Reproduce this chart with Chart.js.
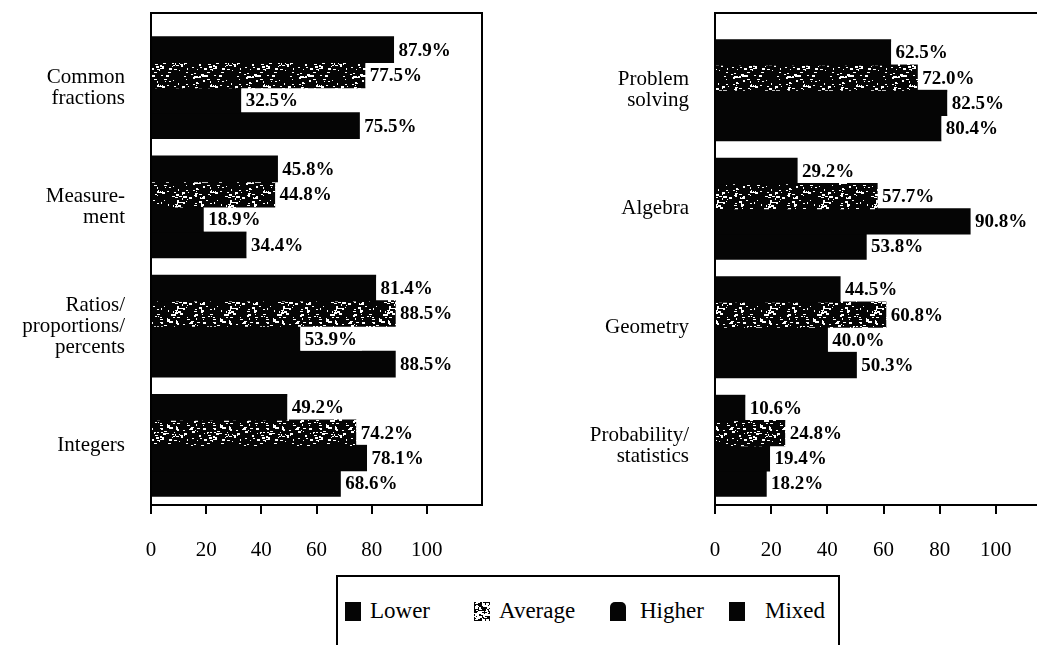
<!DOCTYPE html>
<html>
<head>
<meta charset="utf-8">
<script src="https://cdn.jsdelivr.net/npm/chart.js@4/dist/chart.umd.min.js"></script>
<style>
  html, body { margin: 0; padding: 0; background: #fff; width: 1037px; height: 645px; overflow: hidden; }
  #wrap { position: relative; width: 1037px; height: 645px; overflow: hidden; }
  #c1 { position: absolute; left: 0; top: 0; }
  #c2 { position: absolute; left: 540px; top: 0; }
  #legend { position: absolute; left: 336px; top: 575px; width: 504px; height: 90px;
            border: 2px solid #000; box-sizing: border-box;
            font-family: 'Liberation Serif', 'Times New Roman', serif; font-size: 23px; color: #000; }
  .lg-sw { position: absolute; top: 25px; width: 16px; height: 19px; background: #050505; }
  .lg-tx { position: absolute; top: 21px; line-height: 26px; white-space: nowrap; }
</style>
</head>
<body>
<div id="wrap">
  <canvas id="c1" width="492" height="570"></canvas>
  <canvas id="c2" width="522" height="570"></canvas>
  <div id="legend"></div>
</div>
<script>
// ---------------- DATA ----------------
const seriesNames = ['Lower', 'Average', 'Higher', 'Mixed'];

const leftCategories = [['Common', 'fractions'], ['Measure-', 'ment'], ['Ratios/', 'proportions/', 'percents'], ['Integers']];
const leftLower   = [87.9, 45.8, 81.4, 49.2];
const leftAverage = [77.5, 44.8, 88.5, 74.2];
const leftHigher  = [32.5, 18.9, 53.9, 78.1];
const leftMixed   = [75.5, 34.4, 88.5, 68.6];

const rightCategories = [['Problem', 'solving'], ['Algebra'], ['Geometry'], ['Probability/', 'statistics']];
const rightLower   = [62.5, 29.2, 44.5, 10.6];
const rightAverage = [72.0, 57.7, 60.8, 24.8];
const rightHigher  = [82.5, 90.8, 40.0, 19.4];
const rightMixed   = [80.4, 53.8, 50.3, 18.2];

const xTickValues = [0, 20, 40, 60, 80, 100];

// ---------------- STYLE ----------------
const SERIF = "'Liberation Serif', 'Times New Roman', serif";
const INK = '#050505';

function makeSpeckle(size, density) {
  const c = document.createElement('canvas');
  c.width = size; c.height = size;
  const ctx = c.getContext('2d');
  ctx.fillStyle = INK;
  ctx.fillRect(0, 0, size, size);
  ctx.fillStyle = '#ffffff';
  for (let y = 0; y < size; y += 1) {
    for (let x = 0; x < size; x += 1) {
      let h = Math.imul(x * 3 + 17, 374761393) ^ Math.imul(y * 5 + 31, 668265263);
      h = Math.imul(h ^ (h >>> 13), 1274126177);
      h = (h ^ (h >>> 16)) >>> 0;
      if (h % 1000 < density) ctx.fillRect(x, y, 1 + (h % 3), 1 + ((h >> 4) % 2));
    }
  }
  return c;
}
const speckleCanvas = makeSpeckle(53, 80);
const patternCtx = document.createElement('canvas').getContext('2d');
const specklePattern = patternCtx.createPattern(speckleCanvas, 'repeat');

const seriesFills = [INK, specklePattern, INK, INK];

// box + value label plugin
const decorPlugin = {
  id: 'decor',
  afterDatasetsDraw(chart) {
    const ctx = chart.ctx;
    ctx.save();
    ctx.font = "bold 19px " + SERIF;
    ctx.textBaseline = 'middle';
    ctx.textAlign = 'left';
    chart.data.datasets.forEach((ds, di) => {
      const meta = chart.getDatasetMeta(di);
      meta.data.forEach((el, i) => {
        const txt = ds.data[i].toFixed(1) + '%';
        const w = ctx.measureText(txt).width;
        const x0 = el.x;
        const h = el.height;
        ctx.fillStyle = '#ffffff';
        ctx.fillRect(x0 + 1, el.y - h / 2 + 2, w + 9, h - 3);
        ctx.fillStyle = '#000000';
        ctx.fillText(txt, x0 + 5, el.y + 1);
      });
    });
    ctx.restore();
  },
  afterDraw(chart) {
    const a = chart.chartArea;
    const ctx = chart.ctx;
    ctx.save();
    ctx.strokeStyle = '#000';
    ctx.lineWidth = 2;
    ctx.strokeRect(a.left, 13, a.right - a.left, a.bottom - 13);
    ctx.restore();
  }
};

function makeChart(id, categories, values, yWidth, topPad) {
  return new Chart(document.getElementById(id), {
    type: 'bar',
    data: {
      labels: categories,
      datasets: seriesNames.map((n, k) => ({
        label: n,
        data: values[k],
        backgroundColor: seriesFills[k],
        borderWidth: 0,
        inflateAmount: 0.6,
        barPercentage: 1.0,
        categoryPercentage: 0.85
      }))
    },
    options: {
      indexAxis: 'y',
      responsive: false,
      animation: false,
      devicePixelRatio: 1,
      layout: { padding: { top: topPad, right: 10, left: 0, bottom: 0 } },
      plugins: { legend: { display: false }, tooltip: { enabled: false } },
      scales: {
        x: {
          min: 0, max: 120,
          afterBuildTicks(scale) { scale.ticks = xTickValues.map(v => ({ value: v })); },
          afterFit(scale) { scale.height = 65; scale.paddingLeft = 0; scale.paddingRight = 0; },
          ticks: { color: '#000', font: { family: SERIF, size: 21 }, padding: 24, maxRotation: 0 },
          grid: { display: true, drawOnChartArea: false, drawTicks: true, tickLength: 9, color: '#000', lineWidth: 2 },
          border: { display: true, color: '#000', width: 2 }
        },
        y: {
          afterFit(scale) { scale.width = yWidth; scale.paddingTop = 0; scale.paddingBottom = 0; },
          ticks: { color: '#000', font: { family: SERIF, size: 21, lineHeight: 1.0 }, padding: 18 },
          grid: { display: false },
          border: { display: true, color: '#000', width: 2 }
        }
      }
    },
    plugins: [decorPlugin]
  });
}

makeChart('c1', leftCategories, [leftLower, leftAverage, leftHigher, leftMixed], 151, 28);
makeChart('c2', rightCategories, [rightLower, rightAverage, rightHigher, rightMixed], 175, 31);

// ---------------- LEGEND (HTML) ----------------
const legend = document.getElementById('legend');
const swatchX = [7, 136, 272, 391];
const textX = [32, 161, 302, 427];
const legendSpeckle = makeSpeckle(16, 300).toDataURL();
seriesNames.forEach((n, k) => {
  const sw = document.createElement('div');
  sw.className = 'lg-sw';
  sw.style.left = swatchX[k] + 'px';
  if (k === 1) { sw.style.backgroundImage = 'url(' + legendSpeckle + ')'; }
  if (k === 2) { sw.style.borderRadius = '5px 5px 0 0'; }
  legend.appendChild(sw);
  const tx = document.createElement('div');
  tx.className = 'lg-tx';
  tx.style.left = textX[k] + 'px';
  tx.textContent = n;
  legend.appendChild(tx);
});
</script>
</body>
</html>
